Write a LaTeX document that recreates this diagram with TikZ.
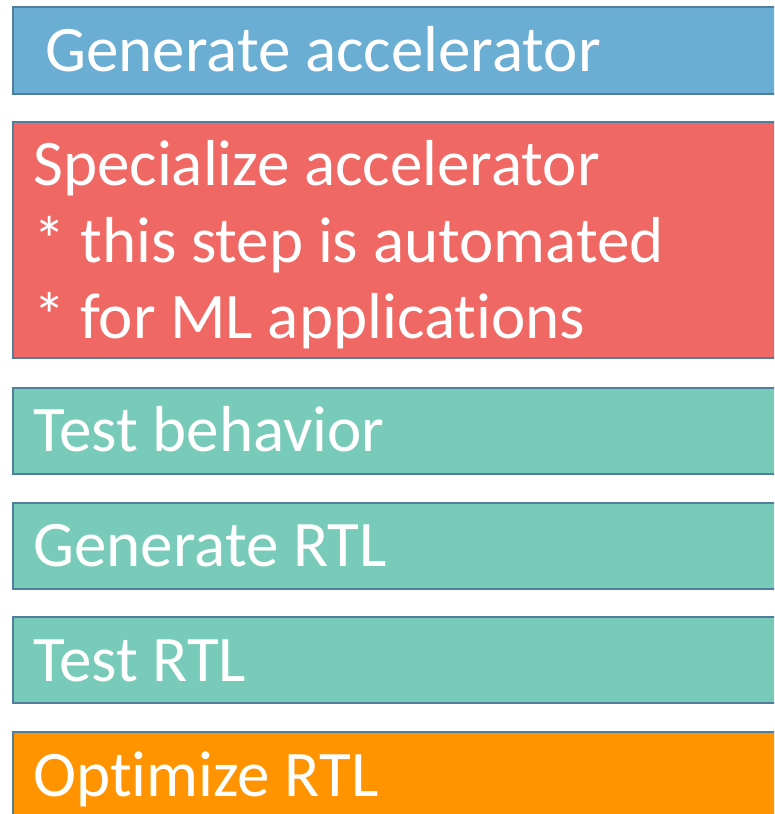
\documentclass[tikz,border=0pt]{standalone}
\usepackage{fontspec}
\setmainfont[Ligatures=NoCommon]{Carlito}
\definecolor{edge}{HTML}{4F7F9C}
\definecolor{stepblue}{HTML}{6AAED3}
\definecolor{stepred}{HTML}{F06864}
\definecolor{stepteal}{HTML}{79CBB9}
\definecolor{steporange}{HTML}{FF9400}
\tikzset{
  stagebox/.style={draw=edge, line width=2.2pt, rectangle, anchor=north west,
    minimum width=800pt, inner sep=0pt},
  stagetext/.style={anchor=base west, inner sep=0pt, text=white,
    font=\fontsize{65}{77}\selectfont}
}
\begin{document}
\begin{tikzpicture}[x=1pt,y=1pt]
\useasboundingbox (0,0) rectangle (774,-814);
\clip (0,0) rectangle (774,-814);
\node[stagebox, fill=stepblue,   minimum height=87pt]  (b1) at (12,-5.5) {};
\node[stagebox, fill=stepred,    minimum height=236pt] (b2) at (12,-121) {};
\node[stagebox, fill=stepteal,   minimum height=86pt]  (b3) at (12,-386.5) {};
\node[stagebox, fill=stepteal,   minimum height=86pt]  (b4) at (12,-501.5) {};
\node[stagebox, fill=stepteal,   minimum height=86pt]  (b5) at (12,-616) {};
\node[stagebox, fill=steporange, minimum height=120pt] (b6) at (12,-731) {};

\node[stagetext] (t1) at (45,-71) {Generate accelerator};
\node[stagetext] (t2a) at (33,-185) {Specialize accelerator};
\node[stagetext] (t2b) at (33,-262) {* this step is automated};
\node[stagetext] (t2c) at (33,-338) {* for ML applications};
\node[stagetext] (t3) at (33,-451) {Test behavior};
\node[stagetext] (t4) at (33,-566) {Generate RTL};
\node[stagetext] (t5) at (33,-681) {Test RTL};
\node[stagetext] (t6) at (33,-796) {Optimize RTL};
\end{tikzpicture}
\end{document}
